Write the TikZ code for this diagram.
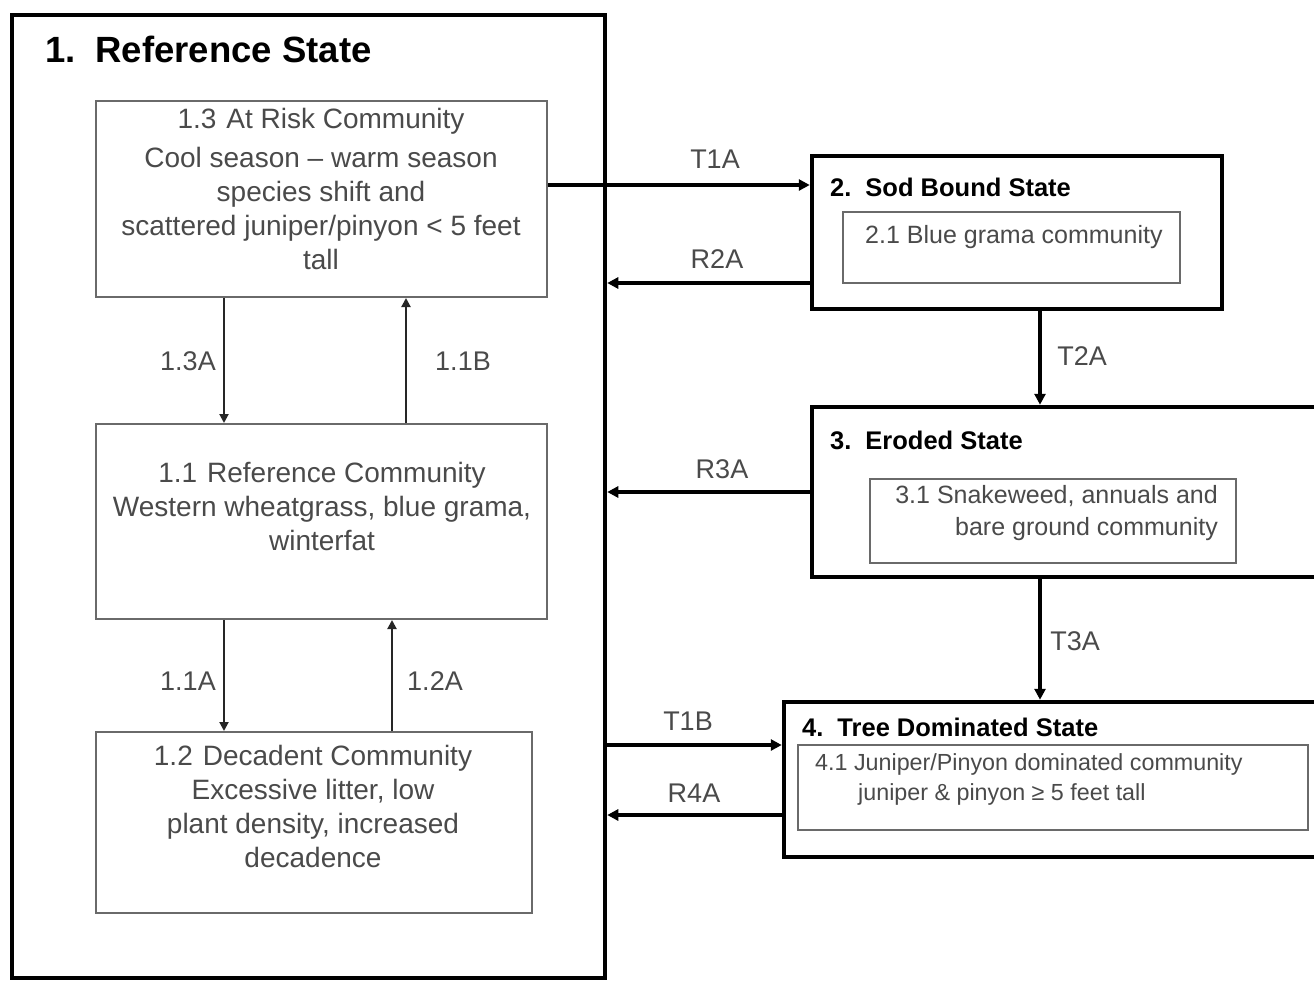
\documentclass[tikz,border=0pt]{standalone}
\usepackage{fontspec}
\setmainfont{Liberation Sans}
\usetikzlibrary{arrows.meta}
\definecolor{boxgray}{HTML}{6A6A6A}
\definecolor{txtgray}{HTML}{4A4A4A}
\begin{document}
\begin{tikzpicture}[x=1pt,y=-1pt,
  statebox/.style={draw=black,line width=4.5pt,inner sep=0pt},
  combox/.style={draw=boxgray,line width=2pt,inner sep=0pt},
  ctext/.style={text=txtgray,inner sep=0pt,align=center,font=\fontsize{28}{34}\selectfont},
  lbl/.style={text=txtgray,inner sep=0pt,anchor=base,font=\fontsize{27}{30}\selectfont},
  sttitle/.style={anchor=base west,inner sep=0pt,text=black,font=\bfseries\fontsize{25.5}{30}\selectfont},
  thinarr/.style={draw=black!85,line width=2pt,-{Triangle[length=9pt,width=9pt]}},
  bigarr/.style={draw=black,line width=4pt,-{Triangle[length=11pt,width=11pt]}}]
\useasboundingbox (0,0) rectangle (1314,980);
\clip (0,0) rectangle (1314,980);
\fill[white] (0,0) rectangle (1314,980);

% State 1
\node[statebox,minimum width=593pt,minimum height=963pt] (s1) at (308.5,496.5) {};
\node[sttitle,font=\bfseries\fontsize{36.5}{40}\selectfont] (t1) at (45,62) {1.\hspace{20pt}Reference State};

\node[combox,minimum width=451pt,minimum height=196pt] (c13) at (321.5,199) {};
\node[ctext,anchor=north] (c13t) at (321,108) {1.3\hspace{10pt}At Risk Community\\[5pt]Cool season – warm season\\species shift and\\scattered juniper/pinyon < 5 feet\\tall};

\node[combox,minimum width=451pt,minimum height=195pt] (c11) at (321.5,521.5) {};
\node[ctext,anchor=north] (c11t) at (322,462) {1.1\hspace{10pt}Reference Community\\Western wheatgrass, blue grama,\\winterfat};

\node[combox,minimum width=436pt,minimum height=181pt] (c12) at (314,822.5) {};
\node[ctext,anchor=north] (c12t) at (313,745) {1.2\hspace{10pt}Decadent Community\\Excessive litter, low\\plant density, increased\\decadence};

\coordinate (xa) at (224,0);
\coordinate (xb) at (406,0);
\coordinate (xc) at (392,0);
\draw[thinarr] (c13.south -| xa) -- (c11.north -| xa);
\draw[thinarr] (c11.north -| xb) -- (c13.south -| xb);
\draw[thinarr] (c11.south -| xa) -- (c12.north -| xa);
\draw[thinarr] (c12.north -| xc) -- (c11.south -| xc);
\node[lbl] (l13a) at (188,370) {1.3A};
\node[lbl] (l11b) at (463,370) {1.1B};
\node[lbl] (l11a) at (188,690) {1.1A};
\node[lbl] (l12a) at (435,690) {1.2A};

% State 2
\node[statebox,minimum width=410pt,minimum height=153pt] (s2) at (1017,232.5) {};
\node[sttitle] (t2) at (830,196) {2.\hspace{14pt}Sod Bound State};
\node[combox,minimum width=337pt,minimum height=71pt] (c21) at (1011.5,247.5) {};
\node[ctext,anchor=base west,font=\fontsize{25}{30}\selectfont] (c21t) at (865,243) {2.1 Blue grama community};

% State 3
\node[statebox,minimum width=518pt,minimum height=170pt] (s3) at (1071,492) {};
\node[sttitle] (t3) at (830,449) {3.\hspace{14pt}Eroded State};
\node[combox,minimum width=366pt,minimum height=84pt] (c31) at (1053,521) {};
\node[ctext,anchor=north east,align=right,font=\fontsize{25}{32}\selectfont] (c31t) at (1218,485) {3.1 Snakeweed, annuals and\\bare ground community};

% State 4
\node[statebox,minimum width=546pt,minimum height=155pt] (s4) at (1057,779.5) {};
\node[sttitle] (t4) at (802,736) {4.\hspace{14pt}Tree Dominated State};
\node[combox,minimum width=510pt,minimum height=85pt] (c41) at (1053,787.5) {};
\node[ctext,anchor=north west,align=left,font=\fontsize{23.3}{30}\selectfont] (c41t) at (815,753) {4.1 Juniper/Pinyon dominated community\\\hspace{43pt}juniper \& pinyon ≥ 5 feet tall};

% Connectors between states
\coordinate (yT1A) at (0,185);
\coordinate (yR2A) at (0,283);
\coordinate (yT1B) at (0,745);
\coordinate (yR4A) at (0,815);
\coordinate (xv) at (1040,0);
\draw[bigarr] (c13.east |- yT1A) -- (s2.west |- yT1A);
\draw[bigarr] (s2.west |- yR2A) -- (s1.east |- yR2A);
\draw[bigarr] (s3.west) -- (s1.east |- s3.west);
\draw[bigarr] (s1.east |- yT1B) -- (s4.west |- yT1B);
\draw[bigarr] (s4.west |- yR4A) -- (s1.east |- yR4A);
\draw[bigarr] (s2.south -| xv) -- (s3.north -| xv);
\draw[bigarr] (s3.south -| xv) -- (s4.north -| xv);
\node[lbl] (lt1a) at (715,168) {T1A};
\node[lbl] (lr2a) at (717,268) {R2A};
\node[lbl] (lr3a) at (722,478) {R3A};
\node[lbl] (lt1b) at (688,730) {T1B};
\node[lbl] (lr4a) at (694,802) {R4A};
\node[lbl] (lt2a) at (1082,365) {T2A};
\node[lbl] (lt3a) at (1075,650) {T3A};
\end{tikzpicture}
\end{document}
